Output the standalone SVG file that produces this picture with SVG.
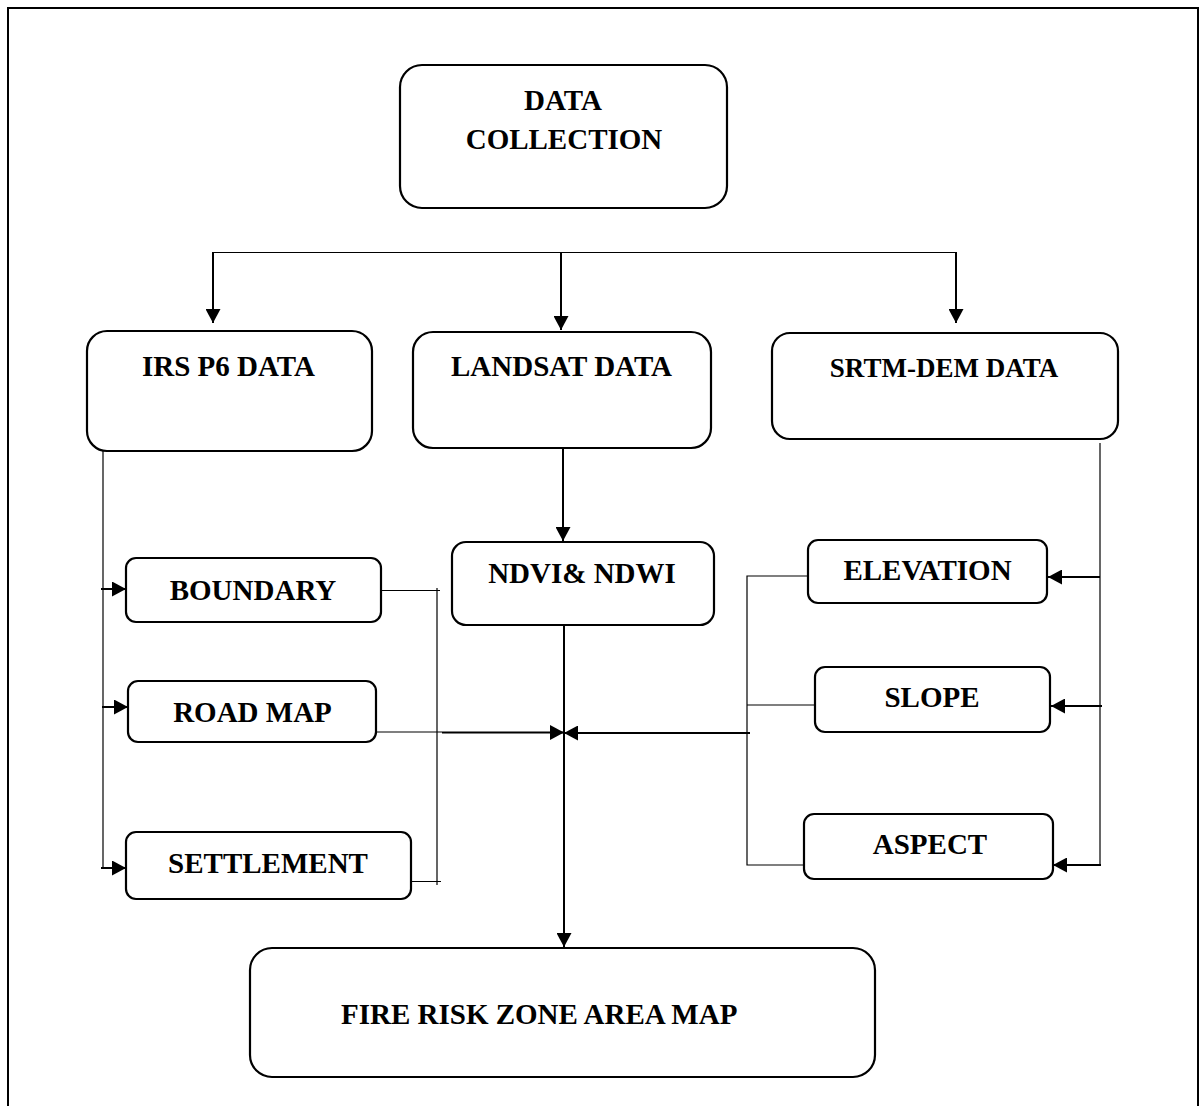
<svg xmlns="http://www.w3.org/2000/svg" width="1203" height="1106" viewBox="0 0 1203 1106">
<style>
.box{fill:#fff;stroke:#000;stroke-width:2.2}
.lbl{font-family:"Liberation Serif","Times New Roman",serif;font-weight:bold;font-size:29px;fill:#000;text-anchor:middle}
.thin{fill:none;stroke:#000;stroke-width:1.2}
.thick{fill:none;stroke:#000;stroke-width:2}
.frame{fill:none;stroke:#000;stroke-width:2}
</style>
<defs>
<marker id="ah" markerUnits="userSpaceOnUse" markerWidth="15" markerHeight="15" refX="14" refY="7.5" orient="auto">
<path d="M0,0 L14,7.5 L0,15 z" fill="#000"/>
</marker>
</defs>
<rect width="1203" height="1106" fill="#fff"/>
<path class="frame" d="M8,1106 V8 H1198 V1106"/>

<g id="connectors">
<line class="thin" x1="212" y1="252.5" x2="956" y2="252.5"/>
<line class="thick" x1="213" y1="252" x2="213" y2="323" marker-end="url(#ah)"/>
<line class="thick" x1="561" y1="252" x2="561" y2="330" marker-end="url(#ah)"/>
<line class="thick" x1="956" y1="252" x2="956" y2="323" marker-end="url(#ah)"/>
<line class="thick" x1="563" y1="448" x2="563" y2="541" marker-end="url(#ah)"/>
<line class="thick" x1="564" y1="625" x2="564" y2="947" marker-end="url(#ah)"/>
<line class="thin" x1="103" y1="451" x2="103" y2="868"/>
<line class="thick" x1="101" y1="589" x2="126" y2="589" marker-end="url(#ah)"/>
<line class="thick" x1="102" y1="707" x2="128" y2="707" marker-end="url(#ah)"/>
<line class="thick" x1="101" y1="868" x2="126" y2="868" marker-end="url(#ah)"/>
<path class="thin" d="M381,590.5 H440 M437,588 V885 M411,881.5 H441 M376,732 H442"/>
<line class="thick" x1="442" y1="732.5" x2="564" y2="732.5" marker-end="url(#ah)"/>
<line class="thick" x1="750" y1="733" x2="564" y2="733" marker-end="url(#ah)"/>
<path class="thin" d="M808,576 H747 V865 H804 M815,705 H747"/>
<line class="thin" x1="1100" y1="443" x2="1100" y2="865"/>
<line class="thick" x1="1100" y1="577" x2="1048" y2="577" marker-end="url(#ah)"/>
<line class="thick" x1="1102" y1="706" x2="1051" y2="706" marker-end="url(#ah)"/>
<line class="thick" x1="1101" y1="865" x2="1053" y2="865" marker-end="url(#ah)"/>
</g>

<g id="data-collection">
<rect class="box" x="400" y="65" width="327" height="143" rx="22"/>
<text class="lbl" x="563" y="110">DATA</text>
<text class="lbl" x="564" y="149">COLLECTION</text>
</g>
<g id="irs">
<rect class="box" x="87" y="331" width="285" height="120" rx="20"/>
<text class="lbl" x="228.5" y="376">IRS P6 DATA</text>
</g>
<g id="landsat">
<rect class="box" x="413" y="332" width="298" height="116" rx="20"/>
<text class="lbl" x="561.5" y="376">LANDSAT DATA</text>
</g>
<g id="srtm">
<rect class="box" x="772" y="333" width="346" height="106" rx="18"/>
<text class="lbl" x="944" y="377" style="font-size:27px">SRTM-DEM DATA</text>
</g>
<g id="ndvi">
<rect class="box" x="452" y="542" width="262" height="83" rx="14"/>
<text class="lbl" x="582" y="583">NDVI&amp; NDWI</text>
</g>
<g id="boundary">
<rect class="box" x="126" y="558" width="255" height="64" rx="10"/>
<text class="lbl" x="253" y="600">BOUNDARY</text>
</g>
<g id="roadmap">
<rect class="box" x="128" y="681" width="248" height="61" rx="10"/>
<text class="lbl" x="252.5" y="722">ROAD MAP</text>
</g>
<g id="settlement">
<rect class="box" x="126" y="832" width="285" height="67" rx="10"/>
<text class="lbl" x="268" y="873">SETTLEMENT</text>
</g>
<g id="elevation">
<rect class="box" x="808" y="540" width="239" height="63" rx="10"/>
<text class="lbl" x="927.5" y="580">ELEVATION</text>
</g>
<g id="slope">
<rect class="box" x="815" y="667" width="235" height="65" rx="10"/>
<text class="lbl" x="932" y="707">SLOPE</text>
</g>
<g id="aspect">
<rect class="box" x="804" y="814" width="249" height="65" rx="10"/>
<text class="lbl" x="930" y="854">ASPECT</text>
</g>
<g id="fire-risk">
<rect class="box" x="250" y="948" width="625" height="129" rx="22"/>
<text class="lbl" x="341" y="1024" style="text-anchor:start">FIRE RISK ZONE AREA MAP</text>
</g>
</svg>
